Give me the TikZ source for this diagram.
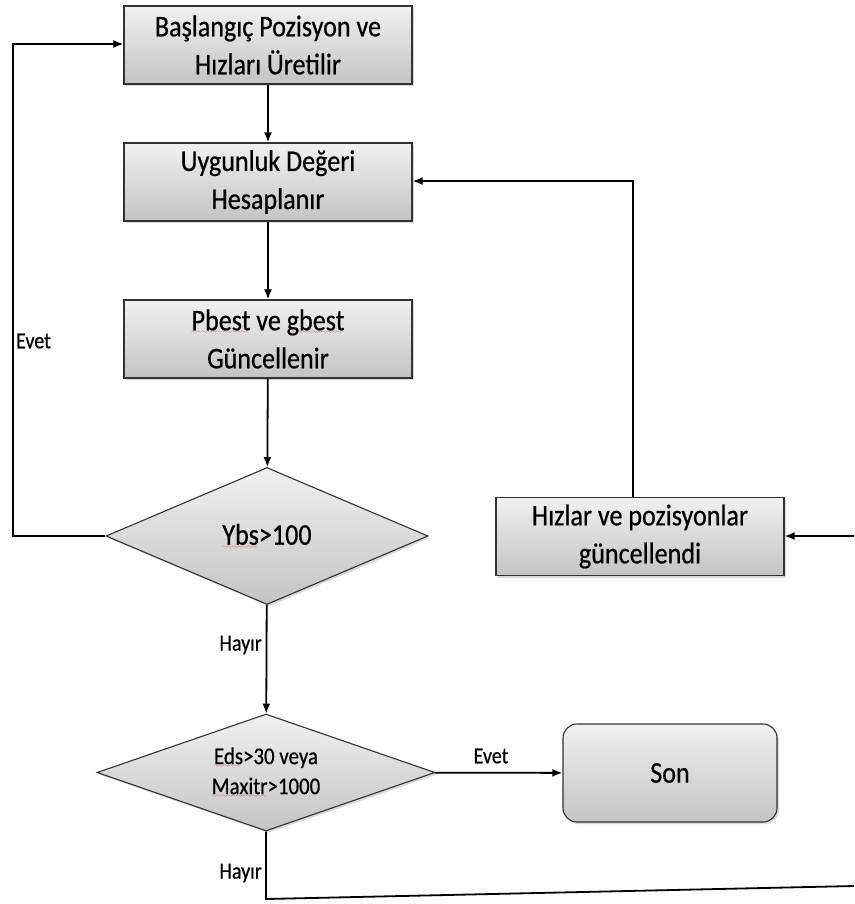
\documentclass[tikz,border=0pt]{standalone}
\usepackage{fontspec}
\setmainfont{Carlito}[FakeStretch=0.87, FakeBold=0.6]
\usetikzlibrary{shapes.geometric,arrows.meta,shadows}

% red wavy spell-check style underline, built from repeated wave glyphs
\font\squigfont=lasy6 at 6pt
\newcommand\squig[1]{\setbox0=\hbox{#1}%
  \rlap{\textcolor{red!85!white}{\lower3.5pt\hbox to\wd0{\leaders\hbox{\squigfont\char58}\hfill}}}%
  \box0\relax}

\definecolor{boxtop}{RGB}{240,240,240}
\definecolor{boxbot}{RGB}{196,196,196}
\definecolor{edge}{RGB}{50,50,50}

\tikzset{
  shaded/.style={draw=edge, line width=1.1pt, top color=boxtop, bottom color=boxbot,
    drop shadow={opacity=0.3, shadow xshift=2pt, shadow yshift=-2pt}},
  procbox/.style={shaded, rectangle, minimum width=288pt, minimum height=78pt,
    inner sep=0pt, align=center, font=\fontsize{30}{38}\selectfont},
  decbox/.style={shaded, diamond, inner sep=0pt, align=center},
  endbox/.style={shaded, rectangle, rounded corners=14pt, minimum width=214pt,
    minimum height=98pt, inner sep=0pt, font=\fontsize{30}{36}\selectfont},
  flow/.style={line width=1.8pt, -{Latex[length=10pt,width=8pt]}},
  plain/.style={line width=1.8pt},
  lbl/.style={inner sep=0pt, font=\fontsize{23}{26}\selectfont}
}

\begin{document}
\begin{tikzpicture}[x=1pt, y=-1pt]
\useasboundingbox (0,0) rectangle (854,904);

% process steps
\node[procbox] (start) at (268,45) {Başlangıç Pozisyon ve\\Hızları Üretilir};
\node[procbox] (fit) at (268,182) {Uygunluk Değeri\\Hesaplanır};
\node[procbox] (best) at (268,339) {\squig{Pbest} ve \squig{gbest}\\Güncellenir};
\node[procbox] (upd) at (640,536.5) {Hızlar ve pozisyonlar\\güncellendi};

% decisions
\node[decbox, aspect=2.35, minimum width=322pt, minimum height=137pt,
      font=\fontsize{30}{36}\selectfont] (ybs) at (267,536) {\squig{Ybs}>100};
\node[decbox, aspect=2.89, minimum width=338pt, minimum height=117pt,
      font=\fontsize{24}{30}\selectfont] (stop) at (266,772.5) {\squig{Eds}>30 veya\\\squig{Maxitr}>1000};

% terminal
\node[endbox] (son) at (670,773) {Son};

% loose ends of the loop running past the right edge
\coordinate (inR) at (854,536);
\coordinate (outR) at (854,886);
\coordinate (leftTop) at (13,44);
\coordinate (leftBot) at (13,536);
\coordinate (botL) at (266,899);
\coordinate (updTop) at ([xshift=-7pt]upd.north);
\coordinate (fitR) at (633,181);

% main column
\draw[flow] (start) -- (fit);
\draw[flow] (fit) -- (best);
\draw[flow] (best) -- (ybs);
\draw[flow] (ybs) -- (stop);
\draw[flow] (stop) -- (son);

% feedback paths
\draw[flow] (ybs.west) -- (leftBot) -- (leftTop) -- (start.west |- leftTop);
\draw[flow] (updTop) -- (fitR) -- (fit.east |- fitR);
\draw[flow] (inR) -- (upd.east |- inR);
\draw[plain] (stop.south) -- (botL) -- (outR);

% branch labels
\node[lbl] (lEvet1) at (33.5,341) {Evet};
\node[lbl, anchor=east] (lHayir1) at (262,645) {Hayır};
\node[lbl] (lEvet2) at (491,756) {Evet};
\node[lbl, anchor=east] (lHayir2) at (262,873) {Hayır};
\end{tikzpicture}
\end{document}
